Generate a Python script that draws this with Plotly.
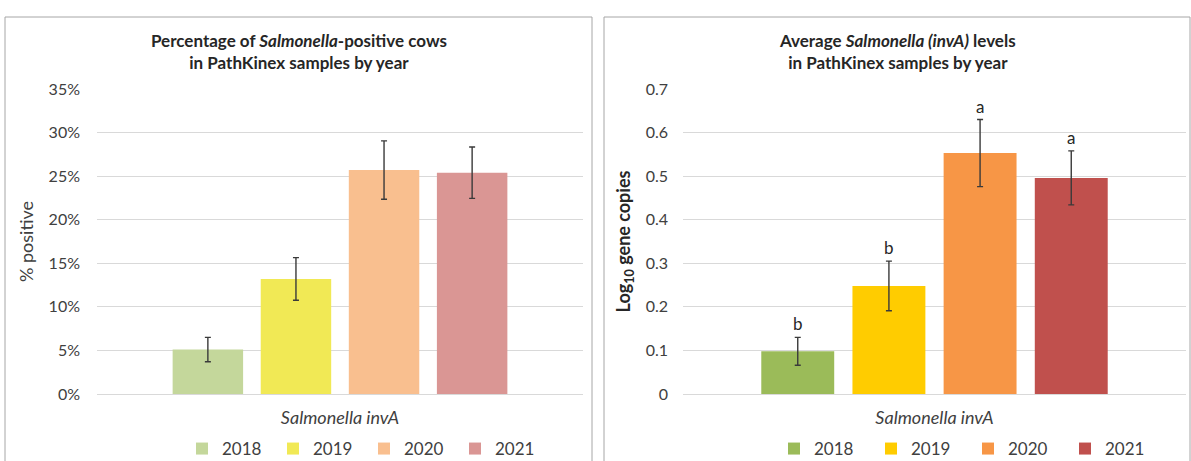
import plotly.graph_objects as go

years = ["2018", "2019", "2020", "2021"]
category = "Salmonella invA"

pct_positive = [5.1, 13.2, 25.7, 25.4]
pct_err = [1.4, 2.45, 3.35, 2.95]
pct_colors = ["#C4D79B", "#F1E955", "#F9BF8F", "#DA9694"]

log_levels = [0.098, 0.248, 0.553, 0.496]
log_err = [0.032, 0.057, 0.077, 0.062]
log_letters = ["b", "b", "a", "a"]
log_colors = ["#9BBB59", "#FFCC00", "#F79646", "#C0504D"]

W, H = 1191, 461
FONT = "Lato"
TXT = "#404040"

fig = go.Figure()

for i, y in enumerate(years):
    fig.add_trace(go.Bar(
        x=[category], y=[pct_positive[i]], name=y, legend="legend",
        marker=dict(color=pct_colors[i], line=dict(width=0)),
        error_y=dict(type="data", array=[pct_err[i]], color="#3a3a3a", thickness=1.4, width=3),
        xaxis="x", yaxis="y",
    ))
for i, y in enumerate(years):
    fig.add_trace(go.Bar(
        x=[category], y=[log_levels[i]], name=y, legend="legend2",
        marker=dict(color=log_colors[i], line=dict(width=0)),
        error_y=dict(type="data", array=[log_err[i]], color="#3a3a3a", thickness=1.4, width=3),
        xaxis="x2", yaxis="y2",
    ))

# domains (pixels -> paper)
lx0, lx1 = 97 / W, 583 / W
rx0, rx1 = 683 / W, 1186 / W
y0, y1 = (H - 394) / H, (H - 89) / H

tickfont = dict(family=FONT, size=16, color=TXT)
xtick = dict(family=FONT, size=18, color=TXT)

fig.update_layout(
    width=W, height=H,
    margin=dict(l=0, r=0, t=0, b=0, autoexpand=False),
    paper_bgcolor="white", plot_bgcolor="white",
    barmode="group", bargap=0.275, bargroupgap=0.2,
    font=dict(family=FONT, color=TXT),
    xaxis=dict(domain=[lx0, lx1], anchor="y", tickvals=[category],
               ticktext=["<i>Salmonella invA</i>"], tickfont=xtick,
               showgrid=False, showline=False, ticks="", ticklabelstandoff=11),
    yaxis=dict(domain=[y0, y1], anchor="x", range=[0, 35], dtick=5, ticksuffix="%",
               tickfont=tickfont, gridcolor="#D9D9D9", gridwidth=1, zeroline=True,
               zerolinecolor="#D9D9D9", zerolinewidth=1, showline=False,
               ticklabelstandoff=16,
               title=dict(text="% positive", font=dict(family=FONT, size=18, color=TXT), standoff=10)),
    xaxis2=dict(domain=[rx0, rx1], anchor="y2", tickvals=[category],
                ticktext=["<i>Salmonella invA</i>"], tickfont=xtick,
                showgrid=False, showline=False, ticks="", ticklabelstandoff=11),
    yaxis2=dict(domain=[y0, y1], anchor="x2", range=[0, 0.7], dtick=0.1,
                tickvals=[0, 0.1, 0.2, 0.3, 0.4, 0.5, 0.6, 0.7],
                ticktext=["0", "0.1", "0.2", "0.3", "0.4", "0.5", "0.6", "0.7"],
                tickfont=tickfont, gridcolor="#D9D9D9", gridwidth=1, zeroline=True,
                zerolinecolor="#D9D9D9", zerolinewidth=1, showline=False,
                ticklabelstandoff=14,
                title=dict(text="<b>Log<sub>10</sub> gene copies</b>",
                           font=dict(family=FONT, size=18, color="#262626"), standoff=10)),
    legend=dict(orientation="h", x=364 / W, xanchor="center", y=(H - 449) / H, yanchor="middle",
                font=dict(family=FONT, size=17, color=TXT), entrywidth=46, itemwidth=30,
                bgcolor="rgba(0,0,0,0)", traceorder="normal"),
    legend2=dict(orientation="h", x=968 / W, xanchor="center", y=(H - 449) / H, yanchor="middle",
                 font=dict(family=FONT, size=17, color=TXT), entrywidth=52, itemwidth=30,
                 bgcolor="rgba(0,0,0,0)", traceorder="normal"),
    showlegend=True,
)

# panel borders
fig.add_shape(type="rect", xref="paper", yref="paper", x0=5 / W, x1=592 / W,
              y0=-0.05, y1=(H - 17) / H, line=dict(color="#A6A6A6", width=1), fillcolor="rgba(0,0,0,0)")
fig.add_shape(type="rect", xref="paper", yref="paper", x0=604 / W, x1=1190 / W,
              y0=-0.05, y1=(H - 17) / H, line=dict(color="#A6A6A6", width=1), fillcolor="rgba(0,0,0,0)")

# titles
fig.add_annotation(xref="paper", yref="paper", x=298.5 / W, y=(H - 51) / H,
                   text="<b>Percentage of <i>Salmonella</i>-positive cows<br>in PathKinex samples by year</b>",
                   showarrow=False, font=dict(family=FONT, size=17, color="#262626"),
                   xanchor="center", yanchor="middle")
fig.add_annotation(xref="paper", yref="paper", x=897 / W, y=(H - 51) / H,
                   text="<b>Average <i>Salmonella (invA)</i> levels<br>in PathKinex samples by year</b>",
                   showarrow=False, font=dict(family=FONT, size=17, color="#262626"),
                   xanchor="center", yanchor="middle")

# significance letters above error bars
plot_w_px = (rx1 - rx0) * W
slot_px = plot_w_px * (1 - 0.275) / len(years)
for i, letter in enumerate(log_letters):
    fig.add_annotation(xref="x2", yref="y2", x=category, y=log_levels[i] + log_err[i],
                       text=letter, showarrow=False, yanchor="bottom", yshift=1,
                       xshift=(i - 1.5) * slot_px,
                       font=dict(family=FONT, size=17, color="#262626"))

fig.write_html("out.html")
